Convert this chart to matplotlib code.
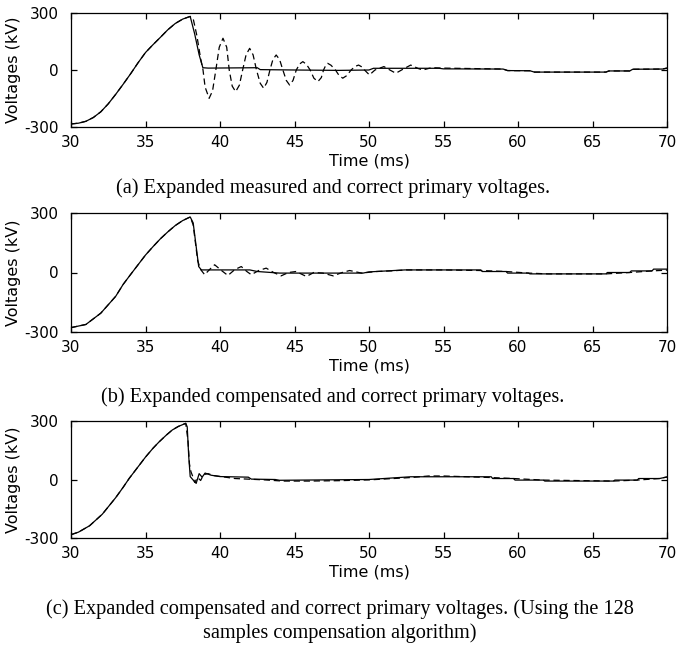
import matplotlib
matplotlib.use("Agg")
import matplotlib.pyplot as plt

# ---------------- data ----------------
# (a) correct primary voltage
ta_correct = [30, 30.5, 31, 31.5, 32, 32.5, 33, 33.5, 34, 34.5, 35, 35.5, 36, 36.5, 37, 37.5, 38.0,
              38.3, 38.6, 38.85, 39.2, 42.5, 42.7, 45, 48, 50, 50.3, 54.7, 55, 59, 59.3, 60.8, 61.1,
              65.9, 66.1, 67.5, 67.7, 69.7, 70]
va_correct = [-284, -280, -270, -250, -220, -178, -128, -75, -20, 38, 92, 133, 172, 212, 245, 268, 282,
              190, 80, 12, 10, 12, 2, 0, -2, 0, 9, 9, 6, 5, -3, -4, -11,
              -11, -5, -5, 4, 5, 10]
# (a) measured primary voltage
ta_measured = [30, 30.5, 31, 31.5, 32, 32.5, 33, 33.5, 34, 34.5, 35, 35.5, 36, 36.5, 37, 37.5, 38.0,
               38.2, 38.45, 38.7, 38.86, 39.0, 39.27, 39.5, 39.72, 39.95, 40.2, 40.45, 40.62, 40.82,
               41.05, 41.3, 41.52, 41.75, 41.99, 42.22, 42.45, 42.7, 42.93, 43.15, 43.35, 43.55, 43.77,
               44.0, 44.22, 44.45, 44.67, 44.9, 45.12, 45.35, 45.56, 45.8, 46.05, 46.3, 46.57, 46.8,
               46.95, 47.1, 47.23, 47.45, 47.75, 48.0, 48.24, 48.5, 48.8, 49.05, 49.3, 49.55, 49.7,
               50.03, 50.4, 51.0, 51.4, 51.8, 52.3, 52.8, 53.3, 53.6, 54.2, 55, 59, 59.3, 60.8, 61.1,
               65.9, 66.1, 67.5, 67.7, 69.7, 70]
va_measured = [-284, -280, -270, -250, -220, -178, -128, -75, -20, 38, 92, 133, 172, 212, 245, 268, 282,
               270, 180, 60, 0, -90, -149, -110, 0, 120, 167, 120, 0, -85,
               -114, -80, 0, 80, 114, 80, 0, -70, -96, -65, 0, 55, 79,
               55, 0, -55, -79, -55, 0, 32, 44, 30, 0, -43, -61, -40,
               0, 25, 35, 25, 0, -30, -43, -30, 0, 18, 26, 15, 0,
               -26, 0, 18, 0, -17, 5, 26, 8, 0, 12, 10, 5, -3, -4, -11,
               -11, -5, -5, 4, 5, 10]

# (b) correct primary voltage
tb_correct = [30, 31, 32, 33, 33.5, 34, 35, 35.5, 36, 36.5, 37, 37.5, 38.0, 38.2, 38.57, 38.75, 42, 42.5,
              44, 49.6, 50, 52.4, 57.5, 57.6, 59.2, 59.3, 60.7, 60.8, 65.9, 66, 67.5, 67.6, 69, 69.1, 70]
vb_correct = [-278, -262, -205, -120, -60, -10, 88, 130, 170, 205, 237, 262, 280, 250, 30, 13, 13, 5,
              -3, -3, 3, 13, 13, 5, 5, -3, -3, -7, -7, 0, 0, 8, 8, 17, 17]
# (b) compensated primary voltage
tb_comp = [30, 31, 32, 33, 33.5, 34, 35, 35.5, 36, 36.5, 37, 37.5, 38.0, 38.2, 38.5, 38.7, 38.97, 39.3,
           39.64, 40.1, 40.53, 41.0, 41.43, 41.8, 42.1, 42.6, 43.1, 43.6, 44.1, 44.6, 45.1, 45.8, 46.3,
           46.9, 47.6, 48.2, 48.7, 49.5, 50.5, 51.5, 52.5, 55, 57.5, 59.2, 60.7, 62, 65.9, 67.5, 69, 70]
vb_comp = [-278, -262, -205, -120, -60, -10, 88, 130, 170, 205, 237, 262, 280, 240, 60, 15, -11, 15,
           39, 10, -15, 15, 30, 5, -11, 10, 22, 0, -17, 0, 5, -20, 0,
           -3, -17, 0, 10, -3, 5, 8, 13, 13, 10, 5, -3, -7, -7, 0, 8, 12]

# (c) correct primary voltage
tc_correct = [30, 30.5, 31.25, 32.1, 33.0, 33.5, 33.9, 34.5, 35.0, 35.5, 35.9, 36.4, 36.8, 37.2, 37.7,
              37.8, 37.9, 38.0, 38.2, 38.4, 38.6, 38.8, 39.0, 39.4, 40, 41.9, 42.1, 43.7, 44, 50, 52.8,
              58.2, 58.3, 59.7, 59.8, 61.7, 61.8, 66.4, 66.5, 68, 68.1, 69.5, 70]
vc_correct = [-283, -270, -237, -178, -93, -40, 5, 65, 115, 160, 192, 228, 254, 272, 288,
              270, 120, 15, -3, -20, 30, 12, 33, 22, 15, 12, 2, 0, -4, 0, 14,
              14, 5, 5, -3, -3, -8, -8, -3, -3, 5, 5, 13]
# (c) compensated primary voltage (128 samples algorithm)
tc_comp = [30, 30.5, 31.25, 32.1, 33.0, 33.5, 33.9, 34.5, 35.0, 35.5, 35.9, 36.4, 36.8, 37.2, 37.7,
           37.85, 37.95, 38.05, 38.15, 38.3, 38.5, 38.7, 38.9, 39.2, 39.6, 41, 43, 44.2, 46, 48, 50,
           52.8, 54, 55, 58.2, 59.7, 61.7, 66.4, 68, 69.5, 70]
vc_comp = [-283, -270, -237, -178, -93, -40, 5, 65, 115, 160, 192, 228, 254, 272, 288,
           200, 80, 40, 20, -15, 10, -5, 25, 30, 20, 5, -2, -8, -8, -6, -2,
           10, 18, 18, 10, 5, -3, -8, -3, 5, 13]

x_ticks = [30, 35, 40, 45, 50, 55, 60, 65, 70]
y_ticks = [-300, 0, 300]
y_ticklabels = ["-300", "0", "300"]
xlabel = "Time (ms)"
ylabel = "Voltages (kV)"
captions = [
    "(a) Expanded measured and correct primary voltages.",
    "(b) Expanded compensated and correct primary voltages.",
    "(c) Expanded compensated and correct primary voltages. (Using the 128\nsamples compensation algorithm)",
]

# ---------------- figure ----------------
W, H = 676, 647
fig = plt.figure(figsize=(W / 100, H / 100), dpi=100)

def px_rect(left, top, right, bottom):
    return [left / W, 1 - bottom / H, (right - left) / W, (bottom - top) / H]

rects = [px_rect(71, 13, 667, 127), px_rect(71, 213, 667, 332), px_rect(71, 421, 667, 538)]
series = [
    (ta_correct, va_correct, ta_measured, va_measured),
    (tb_correct, vb_correct, tb_comp, vb_comp),
    (tc_correct, vc_correct, tc_comp, vc_comp),
]

for rect, (t1, v1, t2, v2) in zip(rects, series):
    ax = fig.add_axes(rect)
    ax.plot(t2, v2, color="black", lw=0.9, linestyle=(0, (5, 3)))
    ax.plot(t1, v1, color="black", lw=0.9)
    ax.set_xlim(30, 70)
    ax.set_ylim(-300, 300)
    ax.set_xticks(x_ticks)
    ax.set_xticklabels([str(v) for v in x_ticks])
    ax.set_yticks(y_ticks)
    ax.set_yticklabels(y_ticklabels)
    ax.tick_params(direction="in", top=True, right=True, length=4, width=0.9,
                   labelsize=11, colors="black")
    ax.tick_params(axis="x", pad=6)
    ax.tick_params(axis="y", pad=9)
    for s in ax.spines.values():
        s.set_linewidth(0.9)
    ax.set_xlabel(xlabel, fontsize=11.5, labelpad=2)
    ax.set_ylabel(ylabel, fontsize=11.5, labelpad=2)

fig.text(0.492, 1 - 188 / H, captions[0], ha="center", va="center",
         fontsize=14.6, family="Liberation Serif")
fig.text(0.492, 1 - 397 / H, captions[1], ha="center", va="center",
         fontsize=14.6, family="Liberation Serif")
fig.text(0.503, 1 - 621 / H, captions[2], ha="center", va="center",
         fontsize=14.6, family="Liberation Serif", linespacing=1.3)

fig.savefig("out.png", dpi=100)
